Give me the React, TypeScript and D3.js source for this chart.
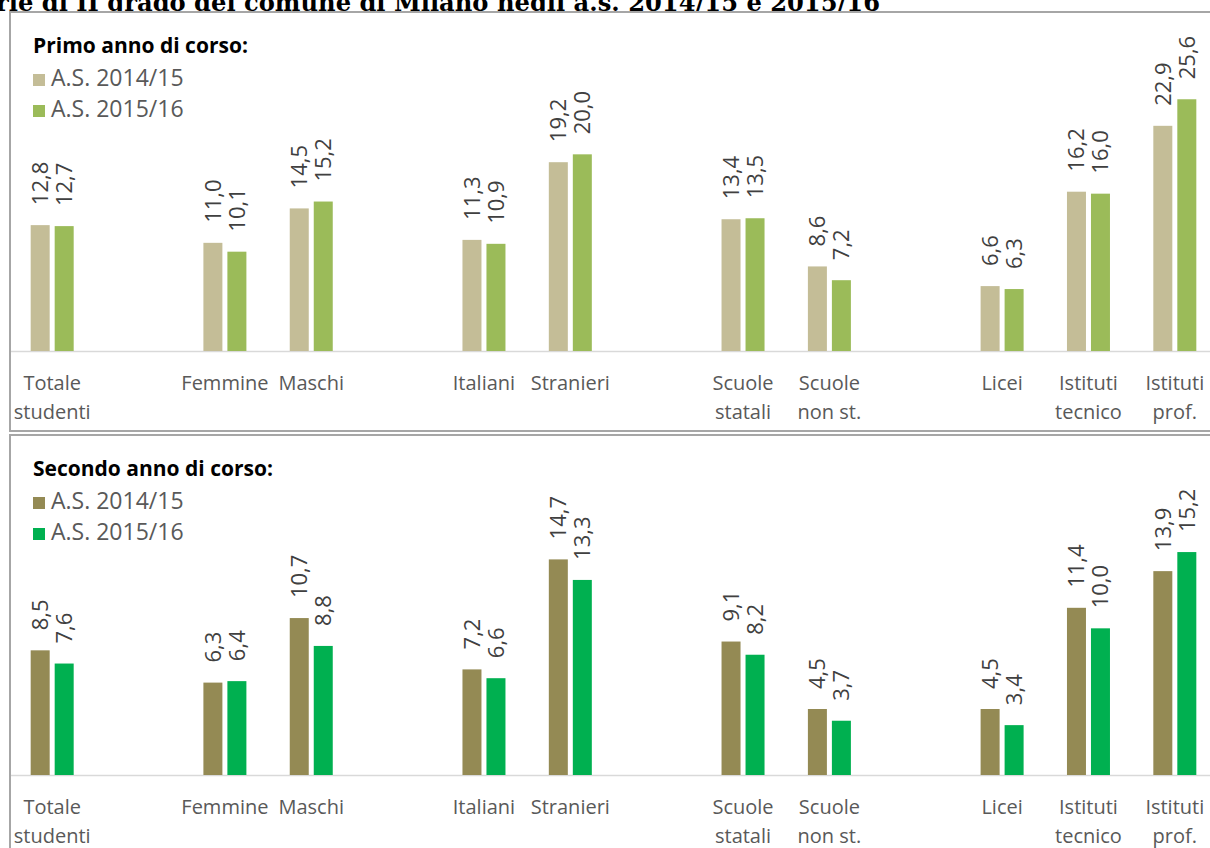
import React, { useEffect, useRef } from 'react';
import * as d3 from 'd3';

// categorie (con righe delle etichette) e spazi vuoti tra i gruppi
const slots = ['tot', 'gap1', 'fem', 'mas', 'gap2', 'ita', 'str', 'gap3', 'sta', 'nst', 'gap4', 'lic', 'tec', 'pro'];
const categories = ['tot', 'fem', 'mas', 'ita', 'str', 'sta', 'nst', 'lic', 'tec', 'pro'];
const categoryLabels = [
  ['Totale', 'studenti'],
  ['Femmine'],
  ['Maschi'],
  ['Italiani'],
  ['Stranieri'],
  ['Scuole', 'statali'],
  ['Scuole', 'non st.'],
  ['Licei'],
  ['Istituti', 'tecnico'],
  ['Istituti', 'prof.'],
];

const seriesNames = ['A.S. 2014/15', 'A.S. 2015/16'];

const primo2014 = [12.8, 11.0, 14.5, 11.3, 19.2, 13.4, 8.6, 6.6, 16.2, 22.9];
const primo2015 = [12.7, 10.1, 15.2, 10.9, 20.0, 13.5, 7.2, 6.3, 16.0, 25.6];
const secondo2014 = [8.5, 6.3, 10.7, 7.2, 14.7, 9.1, 4.5, 4.5, 11.4, 13.9];
const secondo2015 = [7.6, 6.4, 8.8, 6.6, 13.3, 8.2, 3.7, 3.4, 10.0, 15.2];

const font = '"Open Sans", sans-serif';

const App: React.FC = () => {
  const ref = useRef<SVGSVGElement>(null);

  useEffect(() => {
    const svg = d3.select(ref.current);
    svg.selectAll('*').remove();

    // titolo tagliato in alto, come nell'originale
    svg.append('text')
      .attr('x', -4)
      .attr('y', 11)
      .attr('font-family', '"DejaVu Serif", serif')
      .attr('font-weight', 'bold')
      .attr('font-size', 24)
      .attr('textLength', 884)
      .attr('lengthAdjust', 'spacingAndGlyphs')
      .attr('fill', '#000')
      .text('rie di II grado del comune di Milano negli a.s. 2014/15 e 2015/16');

    const panels = [
      { top: 12, bottom: 431, title: 'Primo anno di corso:', a: primo2014, b: primo2015,
        colors: ['#C4BD97', '#9BBB59'], base: 351, yMax: 30, yTop: 56 },
      { top: 435, bottom: 860, title: 'Secondo anno di corso:', a: secondo2014, b: secondo2015,
        colors: ['#948A54', '#00B050'], base: 775, yMax: 18, yTop: 511 },
    ];

    const x0 = d3.scaleBand().domain(slots).range([9, 1218]).padding(0);
    const x1 = d3.scaleBand().domain(seriesNames)
      .range([(x0.bandwidth() - 43) / 2, (x0.bandwidth() + 43) / 2])
      .paddingInner(0.2083).paddingOuter(0);

    panels.forEach(p => {
      const off = p.top - 12;
      const g = svg.append('g');

      g.append('rect')
        .attr('x', 10).attr('y', p.top)
        .attr('width', 1220).attr('height', p.bottom - p.top)
        .attr('fill', '#fff').attr('stroke', '#A6A6A6').attr('stroke-width', 2);

      const y = d3.scaleLinear().domain([0, p.yMax]).range([p.base, p.yTop]);

      g.append('line')
        .attr('x1', 11).attr('x2', 1210)
        .attr('y1', p.base + 0.5).attr('y2', p.base + 0.5)
        .attr('stroke', '#D9D9D9').attr('stroke-width', 1.5);

      g.append('text')
        .attr('x', 33).attr('y', 53 + off)
        .attr('font-family', font).attr('font-weight', 'bold')
        .attr('font-size', 21).attr('fill', '#000')
        .text(p.title);

      seriesNames.forEach((s, i) => {
        const ly = 86 + off + i * 31;
        g.append('rect')
          .attr('x', 33).attr('y', ly - 12)
          .attr('width', 12).attr('height', 12)
          .attr('fill', p.colors[i]);
        g.append('text')
          .attr('x', 51).attr('y', ly)
          .attr('font-family', font).attr('font-size', 23)
          .attr('fill', '#595959')
          .text(s);
      });

      const data = categories.map((c, i) => ({ c, vals: [p.a[i], p.b[i]] }));

      const grp = g.selectAll('.cat').data(data).enter().append('g')
        .attr('transform', d => `translate(${x0(d.c)},0)`);

      grp.selectAll('rect')
        .data(d => d.vals.map((v, i) => ({ v, s: seriesNames[i], i })))
        .enter().append('rect')
        .attr('x', d => x1(d.s) ?? 0)
        .attr('y', d => y(d.v))
        .attr('width', x1.bandwidth())
        .attr('height', d => p.base - y(d.v))
        .attr('fill', d => p.colors[d.i]);

      grp.selectAll('text.val')
        .data(d => d.vals.map((v, i) => ({ v, s: seriesNames[i] })))
        .enter().append('text')
        .attr('class', 'val')
        .attr('transform', d => `translate(${(x1(d.s) ?? 0) + x1.bandwidth() / 2},${y(d.v) - 20}) rotate(-90)`)
        .attr('dy', '0.36em')
        .attr('font-family', font).attr('font-size', 22)
        .attr('fill', '#404040')
        .text(d => d3.format('.1f')(d.v).replace('.', ','));

      categories.forEach((c, i) => {
        const t = g.append('text')
          .attr('x', (x0(c) ?? 0) + x0.bandwidth() / 2)
          .attr('y', p.base + 39)
          .attr('text-anchor', 'middle')
          .attr('font-family', font).attr('font-size', 20)
          .attr('fill', '#595959');
        categoryLabels[i].forEach((line, j) => {
          t.append('tspan')
            .attr('x', (x0(c) ?? 0) + x0.bandwidth() / 2)
            .attr('dy', j === 0 ? 0 : 29)
            .text(line);
        });
      });
    });
  }, []);

  return (
    <svg ref={ref} width={1210} height={848}
      style={{ position: 'absolute', left: 0, top: 0, background: '#fff' }} />
  );
};

export default App;
